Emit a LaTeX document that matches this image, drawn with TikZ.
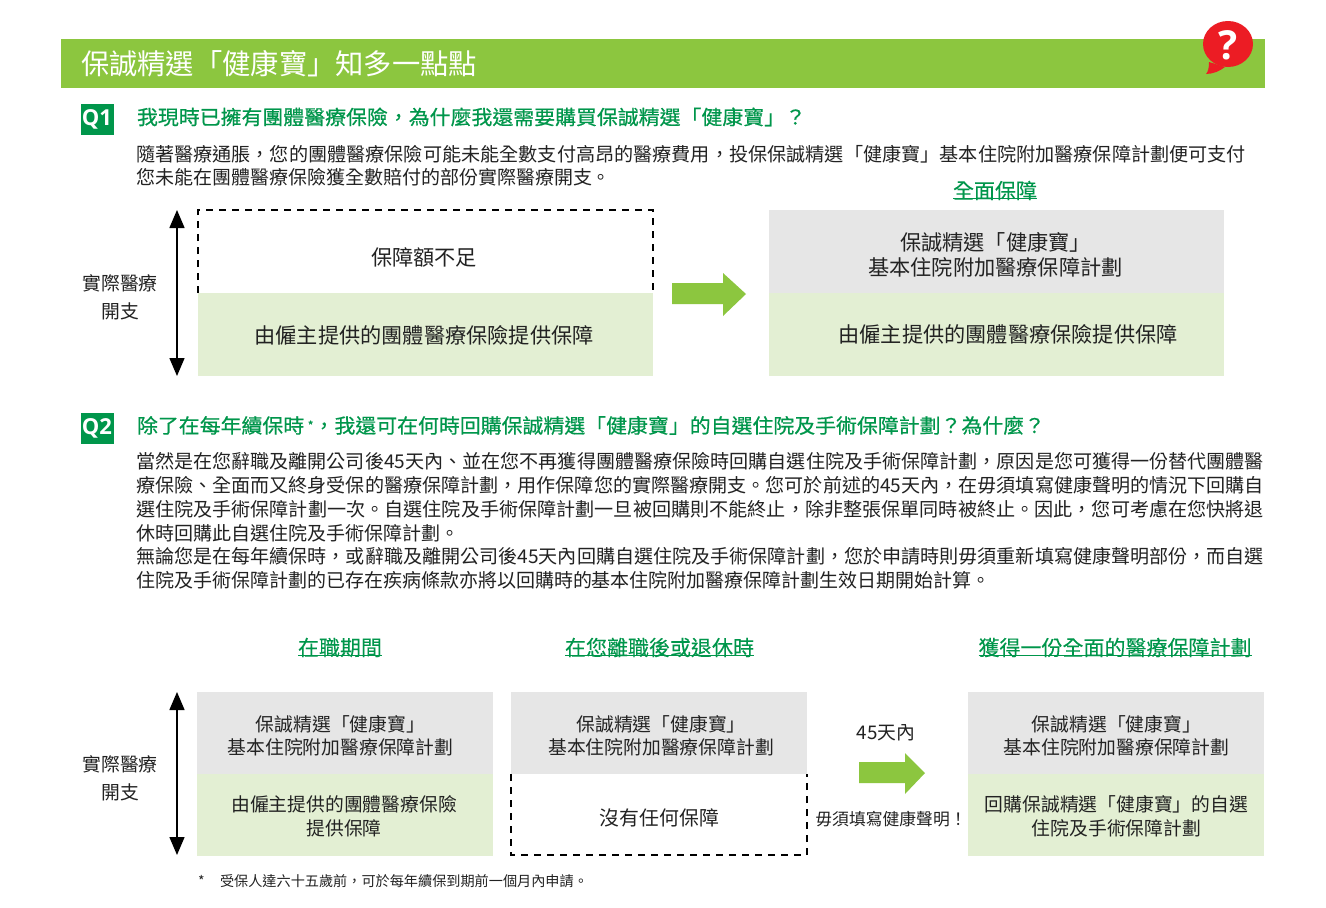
\documentclass[tikz,border=0pt]{standalone}
\usepackage{fontspec}
\usepackage{graphicx}
\setmainfont{Noto Sans CJK TC}
\newfontfamily\headfont{Noto Sans CJK TC}[FakeBold=0.6]
\newfontfamily\subfont{Noto Sans CJK TC}[FakeBold=0.1]
\newfontfamily\latinbold{Open Sans}[BoldFont={Open Sans Bold}]
\usetikzlibrary{arrows.meta}
\definecolor{barg}{HTML}{8CC63F}
\definecolor{headg}{HTML}{00964B}
\definecolor{lightg}{HTML}{E3EFD3}
\definecolor{greyb}{HTML}{E6E6E6}
\definecolor{ink}{HTML}{222222}
\definecolor{bubble}{HTML}{EC1C24}
\newcommand{\fs}[1]{\fontsize{#1}{#1}\selectfont}
\newcommand{\fitline}[2]{\resizebox{#1}{\height}{#2}}
\tikzset{
  every node/.style={inner sep=0pt,outer sep=0pt,text=ink},
  bodyline/.style={anchor=west,font=\fs{19}},
  qhead/.style={anchor=west,font=\headfont\fs{20},text=headg},
  qbox/.style={fill=headg,minimum width=33pt,minimum height=31pt,text=white,font=\latinbold\fs{22}\bfseries},
  uhead/.style={font=\subfont\fs{21},text=headg},
  bigtext/.style={font=\fontsize{21.2}{24.5}\selectfont,align=center},
  smalltext/.style={font=\fontsize{18.8}{23.5}\selectfont,align=center},
  greybox/.style={fill=greyb},
  greenbox/.style={fill=lightg},
  widebox/.style={minimum width=455pt,minimum height=83pt},
  narrowbox/.style={minimum width=296pt,minimum height=82pt},
  dashline/.style={draw=black,line width=1.15pt,dash pattern=on 7pt off 6pt},
  blockarrow/.style={fill=barg},
  spanarrow/.style={line width=1.5pt,black,{Triangle[length=18pt,width=15pt]}-{Triangle[length=18pt,width=15pt]}},
  uline/.style={draw=headg,line width=1pt},
}
\begin{document}
\begin{tikzpicture}[x=1pt,y=-1pt]
\useasboundingbox (0,0) rectangle (1326,908);
\fill[white] (0,0) rectangle (1326,908);

% title bar
\node[fill=barg,minimum width=1204pt,minimum height=49pt] (bar) at (663,63.5) {};
\node[anchor=west,font=\fs{28.3},text=white] (title) at (81,63.5) {保誠精選「健康寶」知多一點點};
% bubble
\fill[bubble] (1209,62) .. controls (1209,68) and (1208,72) .. (1206,74) .. controls (1213,74) and (1220,71) .. (1225,67) -- cycle;
\fill[bubble] (1228,44) ellipse [x radius=25, y radius=23];
\node[font=\latinbold\fs{40}\bfseries,text=white] (qm) at (1228,45) {?};

% Q1
\node[qbox] (q1) at (97,119.5) {Q1};
\node[qhead] (q1h) at (137,117) {\fitline{669pt}{我現時已擁有團體醫療保險，為什麼我還需要購買保誠精選「健康寶」？}};
\node[bodyline] (q1a) at (136,154) {\fitline{1110pt}{隨著醫療通脹，您的團體醫療保險可能未能全數支付高昂的醫療費用，投保保誠精選「健康寶」基本住院附加醫療保障計劃便可支付}};
\node[bodyline] (q1b) at (136,177) {您未能在團體醫療保險獲全數賠付的部份實際醫療開支。};

\node[uhead] (fullh) at (995,190.5) {全面保障};
\draw[uline] ([yshift=1.5pt]fullh.south west) -- ([yshift=1.5pt]fullh.south east);

\coordinate (r1t) at (177,210);
\coordinate (r1b) at (177,376);
\draw[spanarrow] (r1t) -- (r1b);
\node[smalltext] (r1l) at (120,297.5) {實際醫療\\[4pt]開支};

\coordinate (d1a) at (198,293);
\coordinate (d1b) at (198,210);
\coordinate (d1c) at (653,210);
\coordinate (d1d) at (653,293);
\draw[dashline] (d1a) -- (d1b) -- (d1c) -- (d1d);
\node[bigtext] (nolim) at (424,257) {保障額不足};
\node[greenbox,widebox] (g1) at (425.5,334.5) {};
\node[bigtext] (g1t) at (424,335) {由僱主提供的團體醫療保險提供保障};

\fill[blockarrow] (672,283) -- (723,283) -- (723,273) -- (746,294) -- (723,316) -- (723,304) -- (672,304) -- cycle;

\node[greybox,widebox] (g2) at (996.5,251.5) {};
\node[bigtext] (g2t) at ([xshift=-1pt,yshift=-3.5pt]g2.center) {保誠精選「健康寶」\\基本住院附加醫療保障計劃};
\node[greenbox,widebox] (g3) at (996.5,334.5) {};
\node[bigtext] (g3t) at ([xshift=11.5pt]g3.center) {由僱主提供的團體醫療保險提供保障};

% Q2
\node[qbox] (q2) at (97,428) {Q2};
\node[qhead] (q2h) at (137,425.5) {\fitline{908pt}{除了在每年續保時\,\raisebox{3pt}{\fs{12}*}，我還可在何時回購保誠精選「健康寶」的自選住院及手術保障計劃？為什麼？}};
\node[bodyline] (l1) at (136,461) {\fitline{1128pt}{當然是在您辭職及離開公司後45天內、並在您不再獲得團體醫療保險時回購自選住院及手術保障計劃，原因是您可獲得一份替代團體醫}};
\node[bodyline] (l2) at (136,485) {\fitline{1128pt}{療保險、全面而又終身受保的醫療保障計劃，用作保障您的實際醫療開支。您可於前述的45天內，在毋須填寫健康聲明的情況下回購自}};
\node[bodyline] (l3) at (136,509) {\fitline{1128pt}{選住院及手術保障計劃一次。自選住院及手術保障計劃一旦被回購則不能終止，除非整張保單同時被終止。因此，您可考慮在您快將退}};
\node[bodyline] (l4) at (136,533) {休時回購此自選住院及手術保障計劃。};
\node[bodyline] (l5) at (136,556) {\fitline{1128pt}{無論您是在每年續保時，或辭職及離開公司後45天內回購自選住院及手術保障計劃，您於申請時則毋須重新填寫健康聲明部份，而自選}};
\node[bodyline] (l6) at (136,580) {住院及手術保障計劃的已存在疾病條款亦將以回購時的基本住院附加醫療保障計劃生效日期開始計算。};

% column heads
\node[uhead] (h1) at (340,647.5) {在職期間};
\draw[uline] ([yshift=1.5pt]h1.south west) -- ([yshift=1.5pt]h1.south east);
\node[uhead] (h2) at (659.5,647.5) {在您離職後或退休時};
\draw[uline] ([yshift=1.5pt]h2.south west) -- ([yshift=1.5pt]h2.south east);
\node[uhead] (h3) at (1115,647.5) {獲得一份全面的醫療保障計劃};
\draw[uline] ([yshift=1.5pt]h3.south west) -- ([yshift=1.5pt]h3.south east);

\coordinate (r2t) at (177,692);
\coordinate (r2b) at (177,855);
\draw[spanarrow] (r2t) -- (r2b);
\node[smalltext] (r2l) at (120,778.5) {實際醫療\\[4pt]開支};

% column 1
\node[greybox,narrowbox] (a1) at (345,733) {};
\node[smalltext] (a1t) at ([xshift=-4.5pt,yshift=-3pt]a1.center) {保誠精選「健康寶」\\基本住院附加醫療保障計劃};
\node[greenbox,narrowbox] (a2) at (345,815) {};
\node[smalltext] (a2t) at ([xshift=-1pt,yshift=-1.5pt]a2.center) {由僱主提供的團體醫療保險\\提供保障};

% column 2
\node[greybox,narrowbox] (b1) at (659,733) {};
\node[smalltext] (b1t) at ([xshift=2pt,yshift=-3pt]b1.center) {保誠精選「健康寶」\\基本住院附加醫療保障計劃};
\coordinate (d2a) at (511,774);
\coordinate (d2b) at (511,855);
\coordinate (d2c) at (807,855);
\coordinate (d2d) at (807,774);
\draw[dashline] (d2a) -- (d2b) -- (d2c) -- (d2d);
\node[smalltext,font=\fs{19.9}] (b2t) at (659.5,818) {沒有任何保障};

% transition
\node[smalltext] (t1) at (886,733) {45天內};
\fill[blockarrow] (859,762) -- (905,762) -- (905,753) -- (925,773) -- (905,794) -- (905,783) -- (859,783) -- cycle;
\node[smalltext,font=\fs{16.8}] (t2) at (891,819) {毋須填寫健康聲明！};

% column 3
\node[greybox,narrowbox] (c1) at (1116,733) {};
\node[smalltext] (c1t) at ([xshift=.5pt,yshift=-3pt]c1.center) {保誠精選「健康寶」\\基本住院附加醫療保障計劃};
\node[greenbox,narrowbox] (c2) at (1116,815) {};
\node[smalltext] (c2t) at ([xshift=.5pt,yshift=-1.5pt]c2.center) {回購保誠精選「健康寶」的自選\\住院及手術保障計劃};

% footnote
\node[anchor=west,font=\fs{14}] (fnm) at (198,881) {*};
\node[anchor=west,font=\fs{14.15}] (fn) at (220,881) {受保人達六十五歲前，可於每年續保到期前一個月內申請。};
\end{tikzpicture}
\end{document}
